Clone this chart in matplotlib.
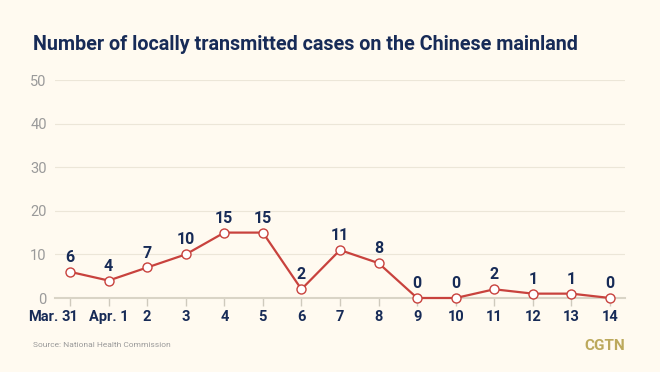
import matplotlib
matplotlib.use("Agg")
import matplotlib.pyplot as plt
from matplotlib.transforms import offset_copy

dates = ["Mar. 31", "Apr. 1", "2", "3", "4", "5", "6", "7", "8", "9", "10", "11", "12", "13", "14"]
cases = [6, 4, 7, 10, 15, 15, 2, 11, 8, 0, 0, 2, 1, 1, 0]
yticks = [0, 10, 20, 30, 40, 50]

BG = "#fffaf0"
NAVY = "#172b57"
RED = "#c8423d"
GRAY = "#9a9a9a"

fig = plt.figure(figsize=(6.6, 3.72), dpi=100, facecolor=BG)
ax = fig.add_axes([55/660, 74/372, 570/660, 218/372], facecolor=BG)

x = list(range(len(cases)))
ax.plot(x, cases, color=RED, lw=1.6, marker="o", ms=6.5, mfc="white", mec=RED, mew=1.0, zorder=3, clip_on=False)
for xi, v in zip(x, cases):
    ax.annotate(str(v), (xi, v), xytext=(0, 5), textcoords="offset points", ha="center", va="bottom",
                fontsize=11.5, fontweight="bold", color=NAVY, family="Roboto")

ax.set_xlim(-0.39, len(cases) - 1 + 0.39)
ax.set_ylim(0, 50)
ax.set_yticks(yticks)
ax.set_yticklabels([str(t) for t in yticks], color=GRAY, fontsize=10.5, family="Roboto")
ax.tick_params(axis="y", length=0, pad=6)
ax.grid(axis="y", color="#ece6d8", lw=0.8)
ax.set_axisbelow(True)

first = dates[0].split()
ax.set_xticks(x)
labels = [first[1]] + dates[1:]
ax.set_xticklabels(labels, color=NAVY, fontsize=10.5, fontweight="bold", family="Roboto")
ax.tick_params(axis="x", length=6, width=1, color="#cfcabd", pad=2.5)
fig.canvas.draw()
lab0 = ax.get_xticklabels()[0]
px, py = lab0.get_position()
ax.text(-0.3, 0, first[0], transform=lab0.get_transform(), ha="right", va=lab0.get_va(),
        color=NAVY, fontsize=10.5, fontweight="bold", family="Roboto")

for s in ["top", "right", "left"]:
    ax.spines[s].set_visible(False)
ax.spines["bottom"].set_color("#d9d4c6")
ax.spines["bottom"].set_linewidth(1.5)

fig.text(33/660, 1 - 44/372, "Number of locally transmitted cases on the Chinese mainland",
         fontsize=14.2, fontweight="bold", color=NAVY, family="Roboto", va="center", ha="left")
fig.text(33/660, 1 - 345/372, "Source: National Health Commission", fontsize=6, color=GRAY,
         family="Roboto", va="center", ha="left")
fig.text(625/660, 1 - 346/372, "CGTN", fontsize=11, fontweight="bold", color="#bca95c",
         family="Roboto", va="center", ha="right")

fig.savefig("out.png", dpi=100, facecolor=BG)
